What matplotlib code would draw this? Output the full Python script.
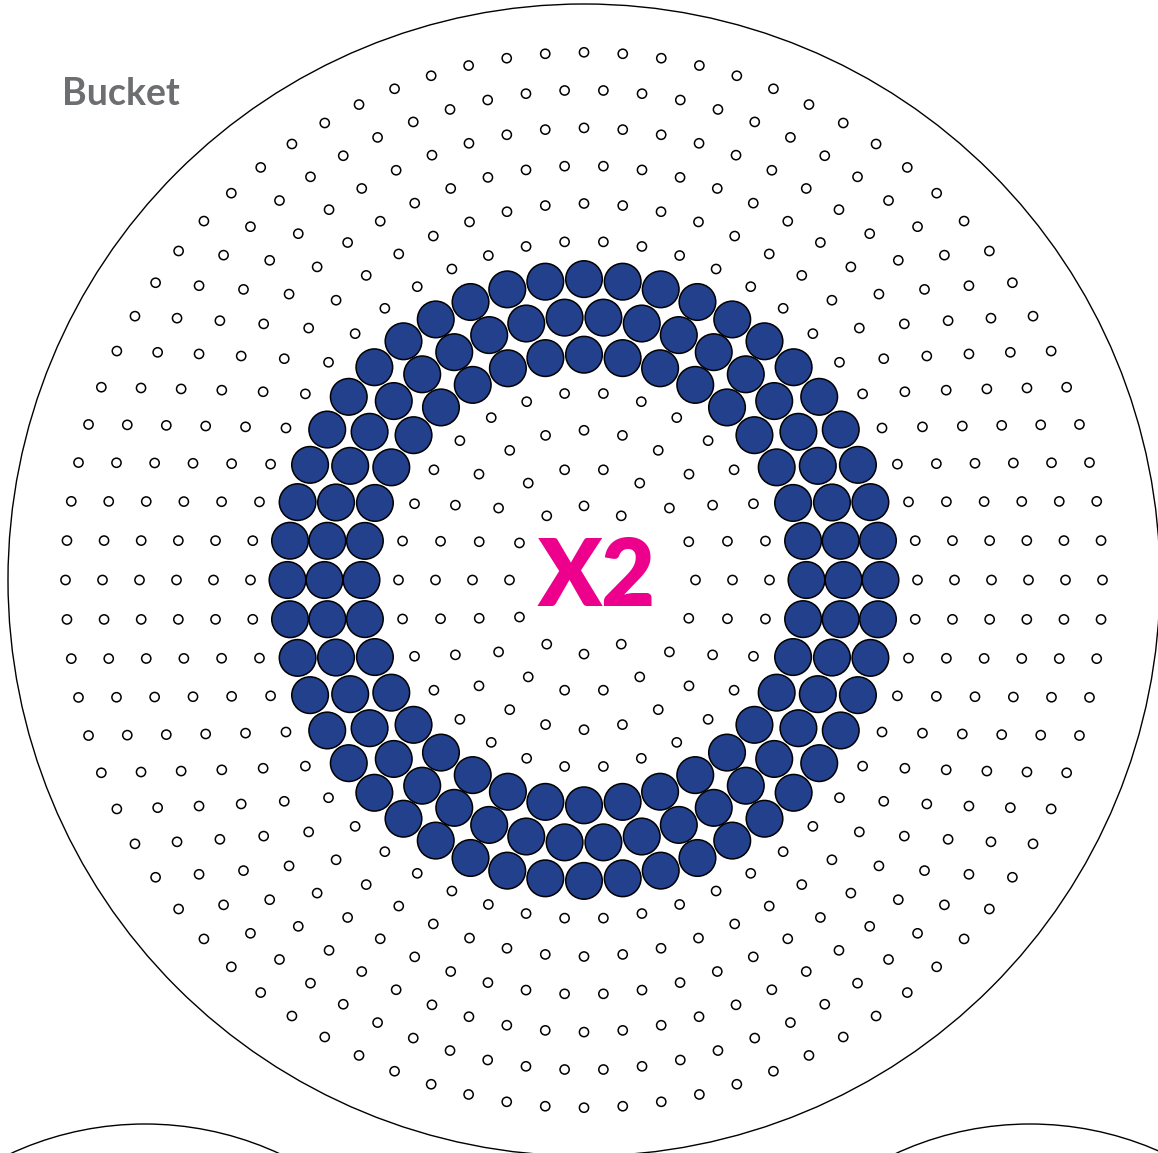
import numpy as np
import matplotlib
matplotlib.use("Agg")
import matplotlib.pyplot as plt
from matplotlib.patches import Circle, Rectangle

# peg rings of the board (ring 1 sits under the label)
rings = list(range(2, 15))
pegs_per_ring = [6 * k for k in rings]
filled_rings = [6, 7, 8]

board_label = "Bucket"
center_label = "X2"

navy = "#22408c"
pink = "#ec008c"
grey = "#6d6e71"

W, H = 1158, 1153
fig = plt.figure(figsize=(W / 100, H / 100), dpi=100)
ax = fig.add_axes([0, 0, 1, 1])
ax.set_xlim(0, W)
ax.set_ylim(H, 0)
ax.set_aspect("equal")
ax.axis("off")

cx, cy = 584, 580

# board outline + neighbouring boards peeking in at the bottom
ax.add_patch(Circle((cx, cy), 576, fill=False, ec="black", lw=1.0))
ax.add_patch(Circle((145, 1124 + 320), 320, fill=False, ec="black", lw=1.0))
ax.add_patch(Circle((1030, 1124 + 320), 320, fill=False, ec="black", lw=1.0))

for k, n in zip(rings, pegs_per_ring):
    rx = 37.0 * k + 0.5
    ry = 37.8 * k - 1.5
    ang = 2 * np.pi * np.arange(n) / n
    xs = cx + rx * np.cos(ang)
    ys = cy - ry * np.sin(ang)
    for x, y in zip(xs, ys):
        if k in filled_rings:
            ax.add_patch(Circle((x, y), 18.3, fc=navy, ec="black", lw=1.1, zorder=3))
        else:
            ax.add_patch(Circle((x, y), 4.6, fc="white", ec="black", lw=1.1, zorder=2))

# white patch behind the label hides the pegs under it
ax.add_patch(Rectangle((527, 527), 142, 104, fc="white", ec="none", zorder=4))
ax.text(597, 579, center_label, color=pink, fontsize=67, fontweight="heavy",
        family=["Lato", "DejaVu Sans"], ha="center", va="center", zorder=5)

ax.text(62, 94, board_label, color=grey, fontsize=27, fontweight="bold",
        family=["Lato", "DejaVu Sans"], ha="left", va="center")

fig.savefig("out.png", dpi=100)
